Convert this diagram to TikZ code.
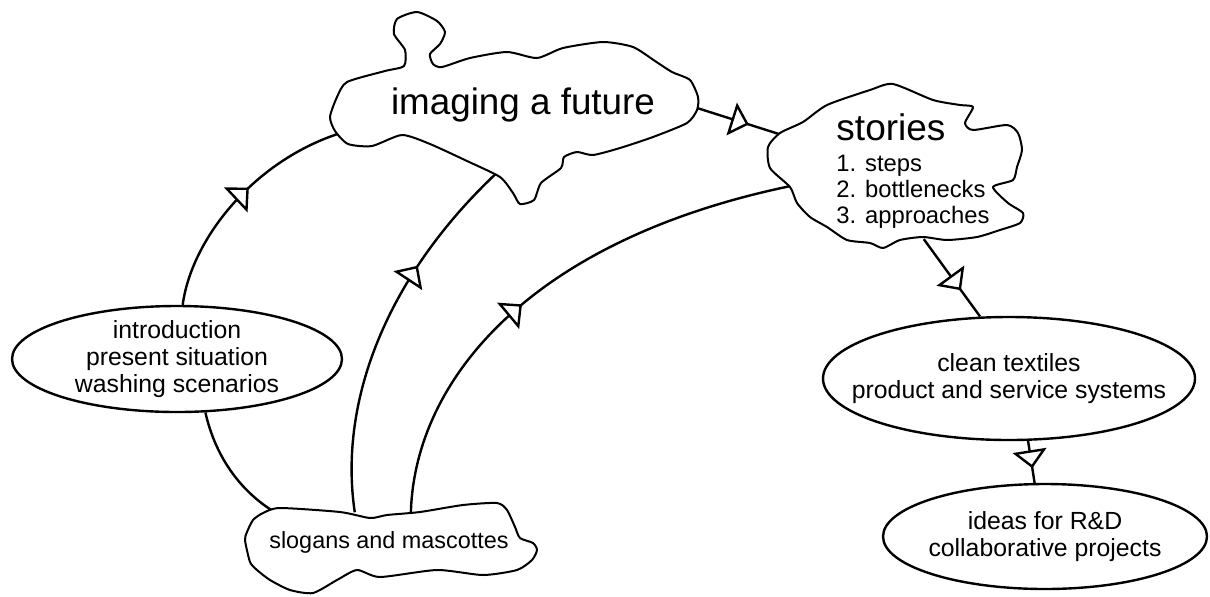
\documentclass[tikz,border=0pt]{standalone}
\usepackage{fontspec}
\setmainfont{Liberation Sans}
\usetikzlibrary{arrows.meta,shapes.geometric,decorations.markings}
\pgfdeclarelayer{bg}
\pgfsetlayers{bg,main}
\definecolor{ink}{HTML}{000000}
\tikzset{
  stage/.style={ellipse, draw=ink, line width=1.2pt, fill=white, align=center,
    inner xsep=-20pt, inner ysep=-1pt, font=\fontsize{12.4}{13.6}\selectfont},
  cloudlbl/.style={ellipse, inner sep=-20pt, align=center},
  blob/.style={draw=ink, line width=1pt, fill=white, line join=round},
  conn/.style={draw=ink, line width=1.2pt},
  midarr/.style={conn, postaction={decorate}, decoration={markings,
    mark=at position #1 with {\arrow{Triangle[length=9pt, width=17pt, fill=white]}}}},
  midarr/.default=0.5
}

\begin{document}
\begin{tikzpicture}[x=0.5pt, y=-0.5pt]
  \useasboundingbox (0,0) rectangle (1210,596);
  % cloud outlines
  \path[blob] plot[smooth cycle, tension=0.4] coordinates {(337,97) (347,82) (385,71) (404,66) (405,50) (394,34) (397,19) (417,12) (437,21) (445,32) (440,44) (430,54) (433,64) (442,67) (470,58) (507,52) (537,58) (563,48) (603,42) (633,47) (655,61) (672,72) (690,80) (698,97) (697,110) (687,123) (653,137) (620,148) (593,155) (577,152) (564,157) (561,168) (541,183) (534,200) (520,204) (513,193) (500,177) (467,161) (430,144) (402,135) (372,146) (348,144) (335,131) (330,117)};
  \path[blob] plot[smooth cycle, tension=0.4] coordinates {(893,84) (933,100) (960,105) (973,107) (965,123) (973,130) (1007,125) (1018,133) (1022,150) (1017,167) (1013,180) (993,187) (1008,203) (1023,213) (1020,223) (1000,230) (977,237) (947,240) (923,237) (900,240) (883,248) (870,243) (847,240) (827,227) (810,217) (797,203) (790,187) (770,168) (768,147) (780,133) (803,122) (827,105) (870,90)};
  \path[blob] plot[smooth cycle, tension=0.4] coordinates {(263,513) (280,508) (340,512) (370,518) (387,515) (420,512) (463,505) (497,503) (507,510) (515,527) (520,538) (533,543) (537,550) (532,560) (517,570) (483,575) (437,570) (380,577) (357,570) (337,580) (313,593) (290,590) (270,580) (257,570) (250,562) (245,540) (247,532) (253,520)};

  \node[cloudlbl, minimum width=174pt, minimum height=68pt, font=\fontsize{18.4}{22}\selectfont] (imaging) at (523,105) {imaging a future};
  \node[cloudlbl, align=left, minimum width=125pt, minimum height=68pt, font=\fontsize{11.9}{13}\selectfont] (stories) at (913,171)
    {{\fontsize{18.5}{22}\selectfont stories}\\[2.5pt]1. steps\\2. bottlenecks\\3. approaches};
  \node[cloudlbl, minimum width=168pt, minimum height=30pt, font=\fontsize{11.7}{13}\selectfont] (slogans) at (389,542) {slogans and mascottes};

  \node[stage, minimum width=165pt, minimum height=53pt] (intro) at (177,359) {introduction\\present situation\\washing scenarios};
  \node[stage, minimum width=186pt, minimum height=61.5pt] (clean) at (1009,378.5) {clean textiles\\product and service systems};
  \node[stage, minimum width=162pt, minimum height=52.5pt] (ideas) at (1045,536.5) {ideas for R\&D\\collaborative projects};

  \begin{pgfonlayer}{bg}
    \draw[midarr=0.52] (intro.84) .. controls (192,235) and (262,150) .. (imaging.188);
    \draw[midarr=0.68] (slogans.139) .. controls (338,400) and (388,275) .. (imaging.249);
    \draw[midarr=0.45] (slogans.54) .. controls (415,380) and (530,240) .. (stories.187);
    \draw[conn] (intro.298) .. controls (215,455) and (240,495) .. (slogans.167);
    \draw[midarr] (imaging.-1) -- (stories.165);
    \draw[midarr=0.66] (stories.279) -- (clean.115);
    \draw[midarr=0.65] (clean.287) -- (ideas.101);
  \end{pgfonlayer}
\end{tikzpicture}
\end{document}
